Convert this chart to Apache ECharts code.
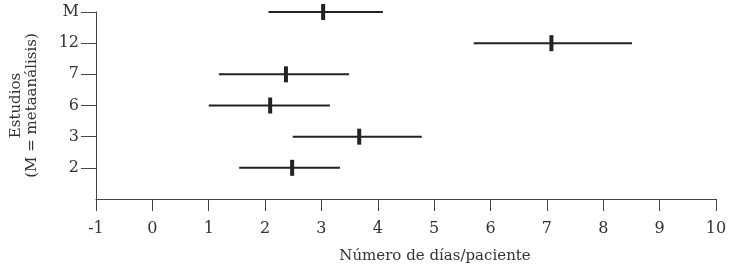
<!DOCTYPE html>
<html>
<head>
<meta charset="utf-8">
<script src="https://cdn.jsdelivr.net/npm/echarts@6/dist/echarts.min.js"></script>
<style>html,body{margin:0;padding:0;background:#fff}#c{width:730px;height:267px}</style>
</head>
<body>
<div id="c"></div>
<script>
// Study labels, bottom to top
var studies = ['2', '3', '6', '7', '12', 'M'];
var lowValues = [1.54, 2.49, 1.00, 1.18, 5.70, 2.06];
var midValues = [2.48, 3.67, 2.09, 2.37, 7.08, 3.03];
var highValues = [3.33, 4.78, 3.15, 3.49, 8.51, 4.09];
var xTicks = [-1, 0, 1, 2, 3, 4, 5, 6, 7, 8, 9, 10];

var data = studies.map(function (s, i) {
  return [lowValues[i], midValues[i], highValues[i], i + 1];
});
var FONT = 'DejaVu Serif';
var chart = echarts.init(document.getElementById('c'));
chart.setOption({
  animation: false,
  grid: { left: 96, right: 14, top: 12, bottom: 68, containLabel: false, outerBoundsMode: 'none' },
  xAxis: {
    type: 'value', min: xTicks[0], max: xTicks[xTicks.length - 1], interval: 1,
    name: 'Número de días/paciente', nameLocation: 'middle', nameGap: 50,
    nameTextStyle: { fontFamily: FONT, fontSize: 15, color: '#333', padding: [0, 0, 0, 58] },
    axisLine: { onZero: false, lineStyle: { color: '#444', width: 1 } },
    axisTick: { show: true, length: 12, lineStyle: { color: '#444' } },
    axisLabel: { fontFamily: FONT, fontSize: 16, color: '#333', margin: 22 },
    splitLine: { show: false }
  },
  yAxis: {
    type: 'value', min: 0, max: 6, interval: 1,
    name: 'Estudios\n(M = metaanálisis)', nameLocation: 'middle', nameGap: 56, nameRotate: 90,
    nameTextStyle: { fontFamily: FONT, fontSize: 15, color: '#333', lineHeight: 16 },
    axisLine: { show: true, onZero: false, lineStyle: { color: '#444', width: 1 } },
    axisTick: { show: true, length: 15, lineStyle: { color: '#444' }, customValues: [1, 2, 3, 4, 5, 6] },
    axisLabel: {
      fontFamily: FONT, fontSize: 16, color: '#333', margin: 17,
      customValues: [1, 2, 3, 4, 5, 6],
      formatter: function (v) { return studies[Math.round(v) - 1] || ''; }
    },
    splitLine: { show: false }
  },
  series: [{
    type: 'custom',
    data: data,
    encode: { x: [0, 1, 2], y: 3 },
    renderItem: function (params, api) {
      var y = api.value(3);
      var p0 = api.coord([api.value(0), y]);
      var p1 = api.coord([api.value(1), y]);
      var p2 = api.coord([api.value(2), y]);
      return {
        type: 'group',
        children: [
          { type: 'line', shape: { x1: p0[0], y1: p0[1], x2: p2[0], y2: p2[1] },
            style: { stroke: '#222', lineWidth: 2 } },
          { type: 'rect', shape: { x: p1[0] - 2, y: p1[1] - 8, width: 4, height: 16 },
            style: { fill: '#222' } }
        ]
      };
    }
  }]
});
</script>
</body>
</html>
